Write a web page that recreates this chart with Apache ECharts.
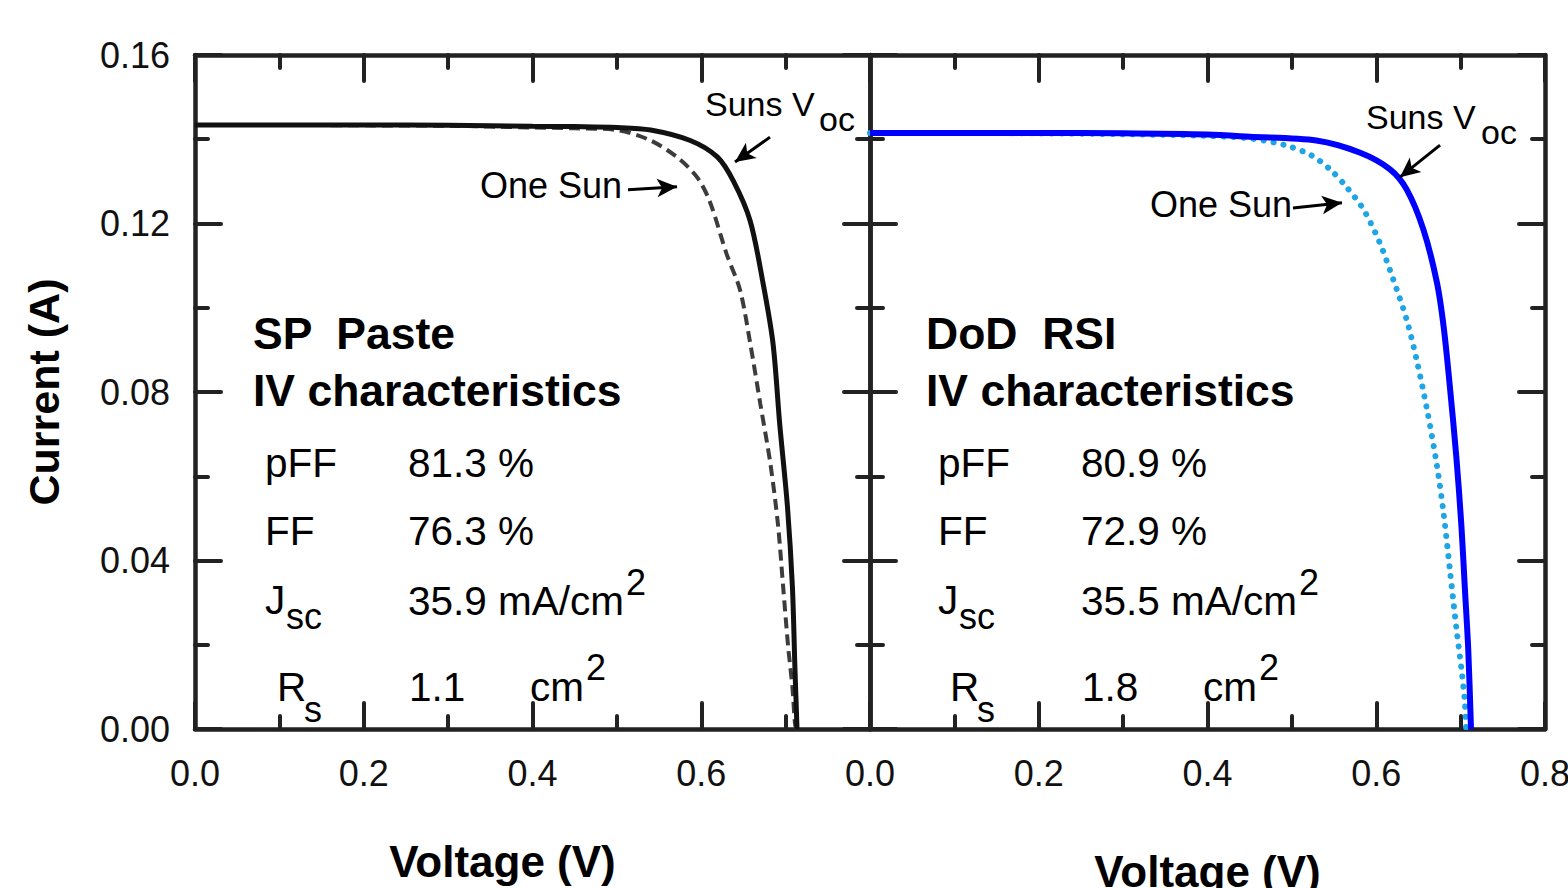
<!DOCTYPE html>
<html>
<head>
<meta charset="utf-8">
<script src="https://cdn.jsdelivr.net/npm/echarts@6/dist/echarts.min.js"></script>
<style>
  html, body { margin: 0; padding: 0; background: #fff; }
  #chart { width: 1568px; height: 888px; }
</style>
</head>
<body>
<div id="chart"></div>
<script>
// left panel: SP paste
const vLeftSuns = [0, 0.1, 0.2, 0.3, 0.4, 0.45, 0.5, 0.54, 0.587, 0.619, 0.638, 0.658, 0.673, 0.685, 0.693, 0.702, 0.708, 0.711, 0.7135];
const iLeftSuns = [0.1434, 0.1434, 0.1434, 0.1433, 0.1431, 0.1430, 0.1428, 0.1422, 0.1397, 0.1358, 0.1301, 0.1206, 0.1061, 0.0916, 0.0724, 0.0532, 0.0339, 0.0147, 0];
const vLeftOne = [0, 0.1, 0.2, 0.3, 0.4, 0.45, 0.5, 0.539, 0.571, 0.595, 0.610, 0.630, 0.646, 0.658, 0.670, 0.682, 0.691, 0.697, 0.703, 0.708, 0.711, 0.7125];
const iLeftOne = [0.1434, 0.1434, 0.1433, 0.1432, 0.1428, 0.1426, 0.1422, 0.1398, 0.1358, 0.1310, 0.1253, 0.1128, 0.1042, 0.0916, 0.0772, 0.0629, 0.0484, 0.0339, 0.0195, 0.0100, 0.0014, 0];

// right panel: DoD RSI
const vRightSuns = [0, 0.1, 0.2, 0.3, 0.4, 0.45, 0.529, 0.581, 0.616, 0.636, 0.656, 0.672, 0.680, 0.687, 0.695, 0.701, 0.705, 0.709, 0.7123];
const iRightSuns = [0.1415, 0.1415, 0.1415, 0.1414, 0.1411, 0.1406, 0.1397, 0.1368, 0.1329, 0.1281, 0.1185, 0.1059, 0.0953, 0.0818, 0.0644, 0.0480, 0.0335, 0.0190, 0];
const vRightOne = [0, 0.1, 0.2, 0.3, 0.4, 0.45, 0.49, 0.522, 0.545, 0.565, 0.585, 0.604, 0.620, 0.636, 0.648, 0.660, 0.672, 0.680, 0.687, 0.695, 0.701, 0.705, 0.7065];
const iRightOne = [0.1415, 0.1415, 0.1414, 0.1412, 0.1408, 0.1402, 0.1387, 0.1363, 0.1329, 0.1286, 0.1233, 0.1155, 0.1068, 0.0972, 0.0875, 0.0760, 0.0625, 0.0509, 0.0383, 0.0239, 0.0142, 0.0065, 0];

// arrows [start, end] in data coords (V, A)
const arrowLeftSuns = [[0.6815, 0.1405], [0.640, 0.1346]];
const arrowLeftOne = [[0.5132, 0.1280], [0.5713, 0.1287]];
const arrowRightSuns = [[0.6756, 0.1386], [0.6281, 0.1310]];
const arrowRightOne = [[0.5013, 0.1237], [0.5594, 0.1249]];

// panel text
const leftInfo = { name: 'SP  Paste', pFF: '81.3 %', FF: '76.3 %', Jsc: '35.9 mA/cm', Rs: '1.1' };
const rightInfo = { name: 'DoD  RSI', pFF: '80.9 %', FF: '72.9 %', Jsc: '35.5 mA/cm', Rs: '1.8' };

const FONT = "'Liberation Sans', Arial, sans-serif";
const AX = '#222';

const pairs = (v, i) => v.map((x, k) => [x, i[k]]);

// width of a string, to hang superscripts right after it
const ctx = document.createElement('canvas').getContext('2d');
function textWidth(s, size, bold) {
  ctx.font = (bold ? 'bold ' : '') + size + 'px ' + FONT;
  return ctx.measureText(s).width;
}

function xAxisOf(grid, pos, showLabels, hideMax) {
  return {
    type: 'value', gridIndex: grid, position: pos,
    min: 0, max: 0.8, interval: 0.2,
    name: pos === 'bottom' ? 'Voltage (V)' : '',
    nameLocation: 'middle',
    nameGap: grid === 0 ? 110 : 120,
    nameTextStyle: { fontFamily: FONT, fontSize: 44, fontWeight: 'bold', color: '#000',
      padding: grid === 0 ? [0, 60, 0, 0] : 0 },
    axisLine: { show: true, onZero: false, lineStyle: { color: AX, width: 4.5 } },
    axisTick: { show: true, inside: true, length: 26, lineStyle: { color: AX, width: 4, cap: 'round' } },
    minorTick: { show: true, splitNumber: 2, length: 13, lineStyle: { color: AX, width: 4, cap: 'round' } },
    axisLabel: { show: showLabels, margin: 26, fontFamily: FONT, fontSize: 36, color: '#111',
      showMaxLabel: !hideMax, formatter: v => v.toFixed(1) },
    splitLine: { show: false }
  };
}

function yAxisOf(grid, pos, showLabels) {
  return {
    type: 'value', gridIndex: grid, position: pos,
    min: 0, max: 0.16, interval: 0.04,
    name: showLabels ? 'Current (A)' : '',
    nameLocation: 'middle', nameGap: 130, nameRotate: 90,
    nameTextStyle: { fontFamily: FONT, fontSize: 43, fontWeight: 'bold', color: '#000' },
    axisLine: { show: true, onZero: false, lineStyle: { color: AX, width: 4.5 } },
    axisTick: { show: true, inside: true, length: 26, lineStyle: { color: AX, width: 4, cap: 'round' } },
    minorTick: { show: true, splitNumber: 2, length: 13, lineStyle: { color: AX, width: 4, cap: 'round' } },
    axisLabel: { show: showLabels, margin: 25, fontFamily: FONT, fontSize: 36, color: '#111',
      formatter: v => v.toFixed(2) },
    splitLine: { show: false }
  };
}

function mark(arrow) {
  return {
    silent: true, symbol: ['none', 'arrow'], symbolSize: [14, 20],
    label: { show: false },
    lineStyle: { color: '#000', width: 3, type: 'solid' },
    data: [[{ coord: arrow[0] }, { coord: arrow[1] }]]
  };
}

function txt(x, y, s, size, bold) {
  return {
    type: 'text', x: x, y: y, silent: true,
    style: { text: s, fill: '#000', fontFamily: FONT, fontSize: size,
      fontWeight: bold ? 'bold' : 'normal', verticalAlign: 'middle', align: 'left' }
  };
}

function panelText(info, dx) {
  const jx = 408 + dx;
  return [
    txt(253 + dx, 333, info.name, 44.5, true),
    txt(253 + dx, 390, 'IV characteristics', 44.5, true),
    txt(265 + dx, 463, 'pFF', 40.5),
    txt(408 + dx, 463, info.pFF, 40.5),
    txt(265 + dx, 531, 'FF', 40.5),
    txt(408 + dx, 531, info.FF, 40.5),
    txt(265 + dx, 600, 'J', 40.5),
    txt(286 + dx, 616, 'sc', 36),
    txt(jx, 601, info.Jsc, 40.5),
    txt(jx + textWidth(info.Jsc, 40.5) + 2, 582, '2', 36),
    txt(277 + dx, 687, 'R', 40.5),
    txt(304 + dx, 709, 's', 36),
    txt(409 + dx, 687, info.Rs, 40.5),
    txt(530 + dx, 687, 'cm', 40.5),
    txt(530 + dx + textWidth('cm', 40.5) + 2, 667, '2', 36)
  ];
}

const chart = echarts.init(document.getElementById('chart'), null, { renderer: 'svg' });

const option = {
  backgroundColor: '#fff',
  animation: false,
  grid: [
    { left: 195, top: 55, width: 675, height: 674, outerBoundsMode: 'none', containLabel: false },
    { left: 870, top: 55, width: 675, height: 674, outerBoundsMode: 'none', containLabel: false }
  ],
  xAxis: [
    xAxisOf(0, 'bottom', true, true),
    xAxisOf(0, 'top', false, true),
    xAxisOf(1, 'bottom', true, false),
    xAxisOf(1, 'top', false, false)
  ],
  yAxis: [
    yAxisOf(0, 'left', true),
    yAxisOf(0, 'right', false),
    yAxisOf(1, 'left', false),
    yAxisOf(1, 'right', false)
  ],
  series: [
    {
      name: 'SP One Sun', type: 'line', xAxisIndex: 0, yAxisIndex: 0,
      data: pairs(vLeftOne, iLeftOne), showSymbol: false, smooth: 0.3,
      lineStyle: { color: '#3c3c3c', width: 4, type: [11, 6] },
      markLine: mark(arrowLeftOne)
    },
    {
      name: 'SP Suns Voc', type: 'line', xAxisIndex: 0, yAxisIndex: 0,
      data: pairs(vLeftSuns, iLeftSuns), showSymbol: false, smooth: 0.3,
      lineStyle: { color: '#111', width: 5 },
      markLine: mark(arrowLeftSuns)
    },
    {
      name: 'RSI One Sun', type: 'line', xAxisIndex: 2, yAxisIndex: 2,
      data: pairs(vRightOne, iRightOne), showSymbol: false, smooth: 0.3,
      lineStyle: { color: '#1ea5e6', width: 6, type: [0.1, 10], cap: 'round' },
      markLine: mark(arrowRightOne)
    },
    {
      name: 'RSI Suns Voc', type: 'line', xAxisIndex: 2, yAxisIndex: 2,
      data: pairs(vRightSuns, iRightSuns), showSymbol: false, smooth: 0.3,
      lineStyle: { color: '#0000ff', width: 6 },
      markLine: mark(arrowRightSuns)
    }
  ],
  graphic: [
    ...panelText(leftInfo, 0),
    ...panelText(rightInfo, 673),
    txt(705, 104, 'Suns V', 34),
    txt(819, 119, 'oc', 34),
    txt(480, 185, 'One Sun', 36),
    txt(1366, 117, 'Suns V', 34),
    txt(1481, 132, 'oc', 34),
    txt(1150, 204, 'One Sun', 36)
  ]
};

chart.setOption(option);
</script>
</body>
</html>
